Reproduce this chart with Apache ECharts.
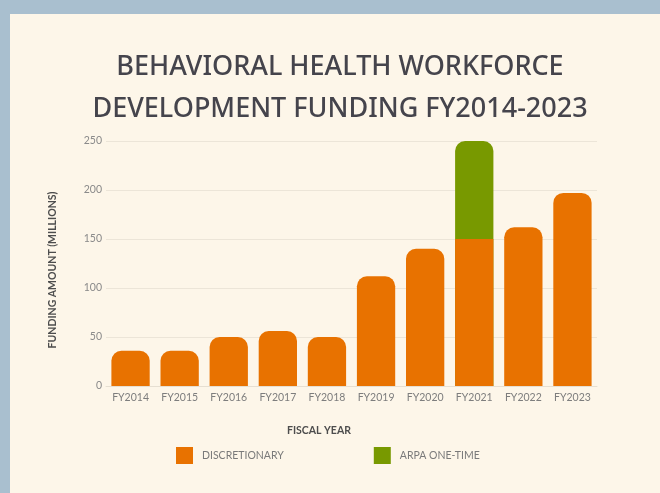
<!DOCTYPE html>
<html>
<head>
<meta charset="utf-8">
<script src="https://cdn.jsdelivr.net/npm/echarts@6/dist/echarts.min.js"></script>
<style>
  html, body { margin: 0; padding: 0; background: #a9bfcf; }
  #card { position: absolute; left: 10px; top: 14px; width: 650px; height: 479px; background: #fdf6e9; }
  #chart { position: absolute; left: 0; top: 0; width: 660px; height: 493px; }
</style>
</head>
<body>
<div id="card"></div>
<div id="chart"></div>
<script>
// values in millions
var years = ['FY2014', 'FY2015', 'FY2016', 'FY2017', 'FY2018', 'FY2019', 'FY2020', 'FY2021', 'FY2022', 'FY2023']
var discretionary = [36, 36, 50, 56, 50, 112, 140, 150, 162, 197]
var arpaOneTime = [0, 0, 0, 0, 0, 0, 0, 100, 0, 0]
var yTicks = [0, 50, 100, 150, 200, 250]

// the green part is drawn as a full-height bar behind the orange one
var totals = discretionary.map(function (v, i) {
  return arpaOneTime[i] ? v + arpaOneTime[i] : null
})

var chart = echarts.init(document.getElementById('chart'))

chart.setOption({
  backgroundColor: 'transparent',
  title: {
    text: 'BEHAVIORAL HEALTH WORKFORCE\nDEVELOPMENT FUNDING FY2014-2023',
    left: 335,
    textAlign: 'center',
    top: 41,
    textStyle: {
      fontFamily: 'Noto Sans',
      fontSize: 27,
      fontWeight: 500,
      lineHeight: 42,
      color: '#45444c'
    }
  },
  graphic: [
    {
      // axis title sits left of the plot centre in the original
      type: 'text',
      left: 287,
      top: 425,
      style: {
        text: 'FISCAL YEAR',
        font: 'bold 10.5px Lato',
        fill: '#4d4d4d'
      }
    },
    {
      type: 'text',
      x: 53,
      y: 270,
      rotation: Math.PI / 2,
      style: {
        text: 'FUNDING AMOUNT (MILLIONS)',
        font: 'bold 10.5px Lato',
        fill: '#4d4d4d',
        align: 'center',
        verticalAlign: 'middle'
      }
    }
  ],
  legend: {
    data: ['DISCRETIONARY', 'ARPA ONE-TIME'],
    left: 176,
    top: 447,
    padding: 0,
    itemWidth: 17,
    itemHeight: 17,
    itemGap: 90,
    icon: 'rect',
    selectedMode: false,
    textStyle: {
      fontFamily: 'Lato',
      fontSize: 10.5,
      color: '#7a7a7a',
      padding: [0, 0, 0, 4]
    }
  },
  grid: {
    left: 106,
    right: 63,
    top: 141,
    bottom: 107
  },
  xAxis: {
    type: 'category',
    data: years,
    axisLine: { lineStyle: { color: '#e6dfd2', width: 1 } },
    axisTick: { show: false },
    axisLabel: {
      fontFamily: 'Lato',
      fontSize: 10.5,
      color: '#7d7d7d',
      margin: 6
    }
  },
  yAxis: {
    type: 'value',
    min: yTicks[0],
    max: yTicks[yTicks.length - 1],
    interval: 50,
    axisLine: { show: false },
    axisTick: { show: false },
    axisLabel: {
      fontFamily: 'Lato',
      fontSize: 10.5,
      color: '#8a8a8a',
      margin: 4
    },
    splitLine: { lineStyle: { color: '#ece5d8', width: 1 } }
  },
  series: [
    {
      name: 'ARPA ONE-TIME',
      type: 'bar',
      data: totals,
      z: 2,
      barCategoryGap: '22%',
      barGap: '-100%',
      itemStyle: { color: '#789900', borderRadius: [10, 10, 0, 0] }
    },
    {
      name: 'DISCRETIONARY',
      type: 'bar',
      z: 3,
      data: discretionary.map(function (v, i) {
        if (arpaOneTime[i]) {
          return { value: v, itemStyle: { borderRadius: 0 } }
        }
        return v
      }),
      barCategoryGap: '22%',
      barGap: '-100%',
      itemStyle: { color: '#e87200', borderRadius: [10, 10, 0, 0] }
    }
  ]
})
</script>
</body>
</html>
